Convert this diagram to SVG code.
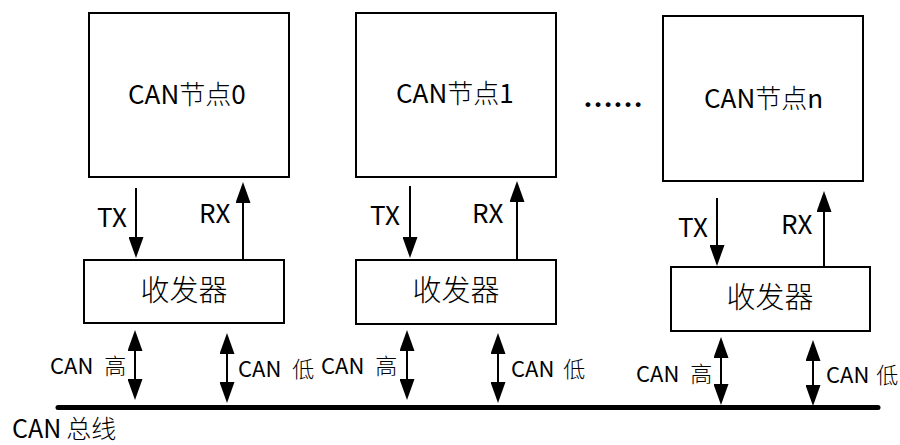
<svg xmlns="http://www.w3.org/2000/svg" width="900" height="445" viewBox="0 0 900 445">
<style>
.box{fill:#fff;stroke:#000;stroke-width:2}
.ln{stroke:#000;stroke-width:2;fill:none}
.bi{marker-start:url(#ah);marker-end:url(#ah)}
.one{marker-end:url(#ah)}
.bus{stroke:#000;stroke-width:5;stroke-linecap:round}
text{font-family:"Noto Sans CJK SC",sans-serif;fill:#000}
.cjk{font-weight:300}
.nl{font-size:26px}
.nc{font-size:26px}
.tr{font-size:26px}
.xc{font-size:29px;font-weight:300;text-anchor:middle}
.bl{font-size:22px}
.bc{font-size:22px;font-weight:300}
</style>
<defs>
<marker id="ah" viewBox="0 0 21 15" refX="16" refY="7.5" markerWidth="21" markerHeight="15" markerUnits="userSpaceOnUse" orient="auto-start-reverse">
<path d="M0,0 L21,7.5 L0,15 z" fill="#000"/>
</marker>
</defs>
<rect width="900" height="445" fill="#fff"/>

<g id="node0">
<rect class="box" x="89" y="13" width="200" height="164"/>
<text class="nl" x="128" y="104">CAN<tspan class="cjk nc">节点</tspan>0</text>
</g>
<g id="node1">
<rect class="box" x="356" y="13" width="200" height="164"/>
<text class="nl" x="396" y="103">CAN<tspan class="cjk nc">节点</tspan>1</text>
</g>
<g id="noden">
<rect class="box" x="663" y="16" width="200" height="165"/>
<text class="nl" x="704" y="108">CAN<tspan class="cjk nc">节点</tspan>n</text>
</g>
<g id="ellipsis">
<text x="583" y="107" style="font-family:'Liberation Serif',serif;font-size:30px;font-weight:bold">……</text>
</g>

<g id="xcvr0">
<rect class="box" x="84" y="260" width="200" height="63"/>
<text class="xc" x="184" y="301">收发器</text>
</g>
<g id="xcvr1">
<rect class="box" x="356" y="260" width="200" height="64"/>
<text class="xc" x="456" y="301">收发器</text>
</g>
<g id="xcvrn">
<rect class="box" x="671" y="267" width="199" height="64"/>
<text class="xc" x="770" y="308">收发器</text>
</g>

<g id="bus">
<line class="bus" x1="58" y1="407.5" x2="878" y2="407.5"/>
<text x="12" y="437.5" style="font-size:25px">CAN<tspan class="cjk" dx="5">总线</tspan></text>
</g>

<g id="connectors">
<line class="ln one" x1="136" y1="188" x2="136" y2="253"/>
<line class="ln one" x1="243" y1="260" x2="243" y2="187"/>
<line class="ln bi" x1="135" y1="335" x2="135" y2="395"/>
<line class="ln bi" x1="227" y1="338" x2="227" y2="398"/>

<line class="ln one" x1="410" y1="186" x2="410" y2="253"/>
<line class="ln one" x1="517" y1="260" x2="517" y2="186"/>
<line class="ln bi" x1="407" y1="335" x2="407" y2="395"/>
<line class="ln bi" x1="498" y1="338" x2="498" y2="398"/>

<line class="ln one" x1="717" y1="198" x2="717" y2="261"/>
<line class="ln one" x1="824" y1="267" x2="824" y2="196"/>
<line class="ln bi" x1="721" y1="342" x2="721" y2="400"/>
<line class="ln bi" x1="813" y1="345" x2="813" y2="401"/>

<text class="tr" x="97" y="227">TX</text>
<text class="tr" x="199" y="223">RX</text>
<text class="tr" x="370" y="225">TX</text>
<text class="tr" x="472" y="223">RX</text>
<text class="tr" x="678" y="237">TX</text>
<text class="tr" x="781" y="234">RX</text>

<text class="bl" x="50" y="374">CAN <tspan class="bc" dx="6">高</tspan></text>
<text class="bl" x="238" y="377">CAN <tspan class="bc" dx="6">低</tspan></text>
<text class="bl" x="321" y="374">CAN <tspan class="bc" dx="6">高</tspan></text>
<text class="bl" x="511" y="377">CAN <tspan class="bc" dx="4">低</tspan></text>
<text class="bl" x="636" y="382">CAN <tspan class="bc" dx="6">高</tspan></text>
<text class="bl" x="826" y="383">CAN <tspan class="bc" dx="2">低</tspan></text>
</g>
</svg>
